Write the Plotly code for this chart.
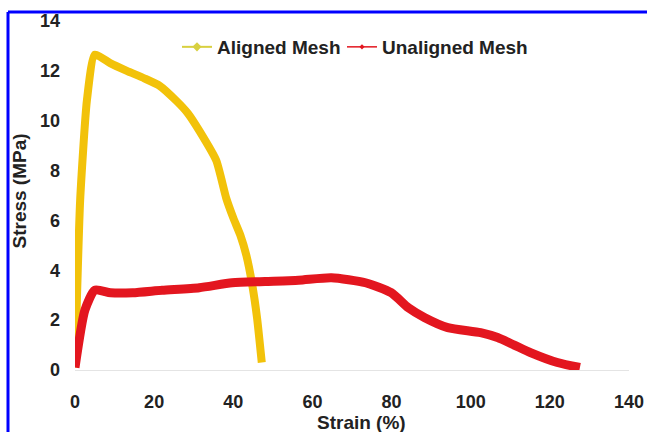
import plotly.graph_objects as go

# Aligned mesh (yellow)
aligned_strain = [0, 1.3, 3.0, 5.0, 9.0, 13.1, 17.5, 21.4, 25.6, 28.5, 31.4, 35.7, 38.2, 40.0, 41.8, 43.3, 44.7, 46.0, 47.2]
aligned_stress = [0.1, 6.8, 10.8, 12.65, 12.3, 12.0, 11.7, 11.4, 10.8, 10.3, 9.6, 8.4, 6.9, 6.1, 5.4, 4.6, 3.5, 2.1, 0.3]

# Unaligned mesh (red)
unaligned_strain = [0, 2.5, 5.0, 9.0, 14.6, 22.0, 31.4, 39.7, 48.0, 56.5, 64.8, 73.4, 79.9, 84.2, 88.4, 94.2, 102.5, 106.8, 111.0, 115.1, 121.9, 127.6]
unaligned_stress = [0.1, 2.4, 3.2, 3.1, 3.1, 3.2, 3.3, 3.5, 3.55, 3.6, 3.7, 3.5, 3.1, 2.5, 2.1, 1.7, 1.5, 1.3, 1.0, 0.7, 0.3, 0.1]

x_ticks = [0, 20, 40, 60, 80, 100, 120, 140]
y_ticks = [0, 2, 4, 6, 8, 10, 12, 14]

YELLOW = "#F2C20A"
RED = "#E3161F"
FONT = "Liberation Sans, Arial, sans-serif"
TXT = "#222222"

fig = go.Figure()
fig.add_trace(go.Scatter(x=aligned_strain, y=aligned_stress, mode="lines",
                         line=dict(color=YELLOW, width=8, shape="spline", smoothing=0.5),
                         showlegend=False, cliponaxis=False))
fig.add_trace(go.Scatter(x=unaligned_strain, y=unaligned_stress, mode="lines",
                         line=dict(color=RED, width=9, shape="spline", smoothing=0.6),
                         showlegend=False, cliponaxis=False))
# legend entries
fig.add_trace(go.Scatter(x=[None], y=[None], mode="lines+markers", name="Aligned Mesh",
                         line=dict(color="#D8D040", width=2),
                         marker=dict(symbol="diamond", size=7, color="#D8D040"),
                         legend="legend"))
fig.add_trace(go.Scatter(x=[None], y=[None], mode="lines+markers", name="Unaligned Mesh",
                         line=dict(color=RED, width=1.5),
                         marker=dict(symbol="diamond", size=4, color=RED),
                         legend="legend2"))

L, R_px, T, B_px = 75, 629, 21, 370
W, H = 647, 432
pw = R_px - L
ph = B_px - T

def px_x(p):
    return (p - L) / pw

def px_y(p):
    return (B_px - p) / ph

legend_font = dict(family=FONT, size=19, color=TXT, weight="bold")

fig.update_layout(
    width=W, height=H,
    margin=dict(l=L, r=W - R_px, t=T, b=H - B_px, pad=0, autoexpand=False),
    paper_bgcolor="white", plot_bgcolor="white",
    font=dict(family=FONT, size=18, color=TXT),
    xaxis=dict(range=[0, 140], tickvals=x_ticks, ticktext=[str(v) for v in x_ticks],
               showgrid=False, zeroline=False, showline=True, linecolor="#e4e4e4", linewidth=1,
               ticks="", ticklabelstandoff=15, automargin=False, ticklabeloverflow="allow",
               tickfont=dict(family=FONT, size=18, color=TXT, weight="bold")),
    yaxis=dict(range=[0, 14], tickvals=y_ticks, ticktext=[str(v) for v in y_ticks],
               showgrid=False, zeroline=False, showline=False,
               ticks="", ticklabelstandoff=14, automargin=False,
               tickfont=dict(family=FONT, size=18, color=TXT, weight="bold")),
    legend=dict(orientation="h", x=px_x(177), y=px_y(28), xanchor="left", yanchor="top",
                bgcolor="rgba(0,0,0,0)", itemwidth=30, font=legend_font),
    legend2=dict(orientation="h", x=px_x(342), y=px_y(28), xanchor="left", yanchor="top",
                 bgcolor="rgba(0,0,0,0)", itemwidth=30, font=legend_font),
    annotations=[
        dict(text="<b>Strain (%)</b>", xref="paper", yref="paper",
             x=px_x(361), y=px_y(422), xanchor="center", yanchor="middle",
             showarrow=False, font=dict(family=FONT, size=19, color=TXT)),
        dict(text="<b>Stress (MPa)</b>", xref="paper", yref="paper",
             x=px_x(18.5), y=px_y(191), xanchor="center", yanchor="middle",
             textangle=-90, showarrow=False, font=dict(family=FONT, size=19, color=TXT)),
    ],
    shapes=[
        dict(type="line", xref="paper", yref="paper", x0=px_x(8), x1=px_x(8),
             y0=px_y(H + 5), y1=px_y(12), line=dict(color="#0000FF", width=3)),
        dict(type="line", xref="paper", yref="paper", x0=px_x(8), x1=px_x(W + 5),
             y0=px_y(12), y1=px_y(12), line=dict(color="#0000FF", width=3)),
    ],
)

fig.write_html("out.html", config={"displayModeBar": False},
               post_script="document.body.style.margin='0';document.body.style.padding='0';")
